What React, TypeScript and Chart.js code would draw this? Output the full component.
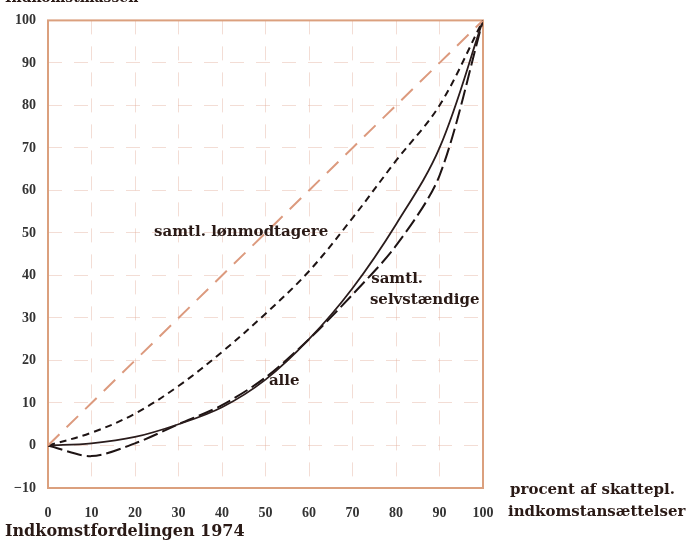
import React, { useEffect, useRef } from "react";
import { Chart, registerables } from "chart.js";

Chart.register(...registerables);

const xValues = [0, 10, 20, 30, 40, 50, 60, 70, 80, 90, 100];
const equality = [0, 10, 20, 30, 40, 50, 60, 70, 80, 90, 100];
const loenmodtagere = [0, 3, 7.5, 14, 22, 31, 41, 53.5, 67, 80, 100];
const alle = [0, 0.5, 2, 5, 9, 15.5, 25, 37, 52, 70, 100];
const selvstaendige = [0, -2.5, 0.5, 5, 9.5, 16, 25, 35.5, 47, 63.5, 100];
const xTicks = [0, 10, 20, 30, 40, 50, 60, 70, 80, 90, 100];
const yTicks = [-10, 0, 10, 20, 30, 40, 50, 60, 70, 80, 90, 100];

const SERIF = "'Liberation Serif', 'DejaVu Serif', serif";
const WIDE = "'DejaVu Serif', serif";
const TEXT = "#2a1a16";

const toPts = (ys: number[]) => xValues.map((x, i) => ({ x, y: ys[i] }));

const labelPlugin = {
  id: "labels",
  beforeDatasetsDraw(chart: any) {
    const { ctx, chartArea } = chart;
    ctx.save();
    ctx.strokeStyle = "#dba07e";
    ctx.lineWidth = 2;
    ctx.strokeRect(chartArea.left, chartArea.top, chartArea.right - chartArea.left, chartArea.bottom - chartArea.top);
    ctx.restore();
  },
  afterDraw(chart: any) {
    const { ctx } = chart;
    const xs = chart.scales.x;
    const ys = chart.scales.y;
    ctx.save();
    ctx.fillStyle = TEXT;
    ctx.textBaseline = "middle";
    ctx.font = `bold 15px ${WIDE}`;
    ctx.textAlign = "center";
    ctx.fillText("samtl. lønmodtagere", xs.getPixelForValue(44.4), ys.getPixelForValue(50.3));
    ctx.fillText("alle", xs.getPixelForValue(54.3), ys.getPixelForValue(15.1));
    ctx.textAlign = "left";
    ctx.fillText("samtl.", xs.getPixelForValue(74.3), ys.getPixelForValue(39.2));
    ctx.fillText("selvstændige", xs.getPixelForValue(74.0), ys.getPixelForValue(34.3));
    ctx.font = `bold 15px ${WIDE}`;
    ctx.fillText("procent af skattepl.", 510, 490);
    ctx.fillText("indkomstansættelser", 508, 512);
    ctx.font = `bold 16px ${WIDE}`;
    ctx.fillText("Indkomstfordelingen 1974", 5, 532);
    ctx.font = `bold 14px ${WIDE}`;
    ctx.textBaseline = "bottom";
    ctx.fillText("Indkomstmassen", 5, 5);
    ctx.restore();
  },
};

export default function App() {
  const ref = useRef<HTMLCanvasElement>(null);
  useEffect(() => {
    if (!ref.current) return;
    const chart = new Chart(ref.current, {
      type: "line",
      data: {
        datasets: [
          {
            label: "lige fordeling",
            data: toPts(equality),
            borderColor: "#dc9a7e",
            borderWidth: 2,
            borderDash: [16, 10],
            pointRadius: 0,
            tension: 0,
          },
          {
            label: "samtl. lønmodtagere",
            data: toPts(loenmodtagere),
            borderColor: "#1e1414",
            borderWidth: 2,
            borderDash: [7, 5],
            pointRadius: 0,
            tension: 0.35,
          },
          {
            label: "alle",
            data: toPts(alle),
            borderColor: "#2a1c1c",
            borderWidth: 1.8,
            pointRadius: 0,
            tension: 0.35,
          },
          {
            label: "samtl. selvstændige",
            data: toPts(selvstaendige),
            borderColor: "#1e1414",
            borderWidth: 2,
            borderDash: [15, 5],
            pointRadius: 0,
            tension: 0.3,
          },
        ],
      },
      options: {
        responsive: false,
        animation: false,
        layout: { padding: { top: 15, right: 209, left: 0, bottom: 0 } },
        plugins: { legend: { display: false }, tooltip: { enabled: false } },
        scales: {
          x: {
            type: "linear",
            min: 0,
            max: 100,
            afterFit: (s: any) => { s.height = 55; },
            afterBuildTicks: (s: any) => { s.ticks = xTicks.map((v) => ({ value: v })); },
            grid: { color: "rgba(225,170,150,0.4)", lineWidth: 1, drawTicks: false },
            border: { display: false, dash: [14, 12] },
            ticks: {
              padding: 17,
              color: "#333",
              font: { family: SERIF, size: 14, weight: "bold" },
              maxRotation: 0,
            },
          },
          y: {
            type: "linear",
            min: -10,
            max: 100,
            afterFit: (s: any) => { s.width = 48; },
            afterBuildTicks: (s: any) => { s.ticks = yTicks.map((v) => ({ value: v })); },
            grid: { color: "rgba(225,170,150,0.4)", lineWidth: 1, drawTicks: false },
            border: { display: false, dash: [14, 12] },
            ticks: {
              padding: 12,
              color: "#333",
              font: { family: SERIF, size: 14, weight: "bold" },
              callback: (v: any) => (v < 0 ? "−" + Math.abs(v) : String(v)),
            },
          },
        },
      },
      plugins: [labelPlugin],
    });
    return () => chart.destroy();
  }, []);
  return (
    <div style={{ position: "fixed", left: 0, top: 0, width: 692, height: 543, background: "#fff" }}>
      <canvas ref={ref} width={692} height={543} />
    </div>
  );
}
